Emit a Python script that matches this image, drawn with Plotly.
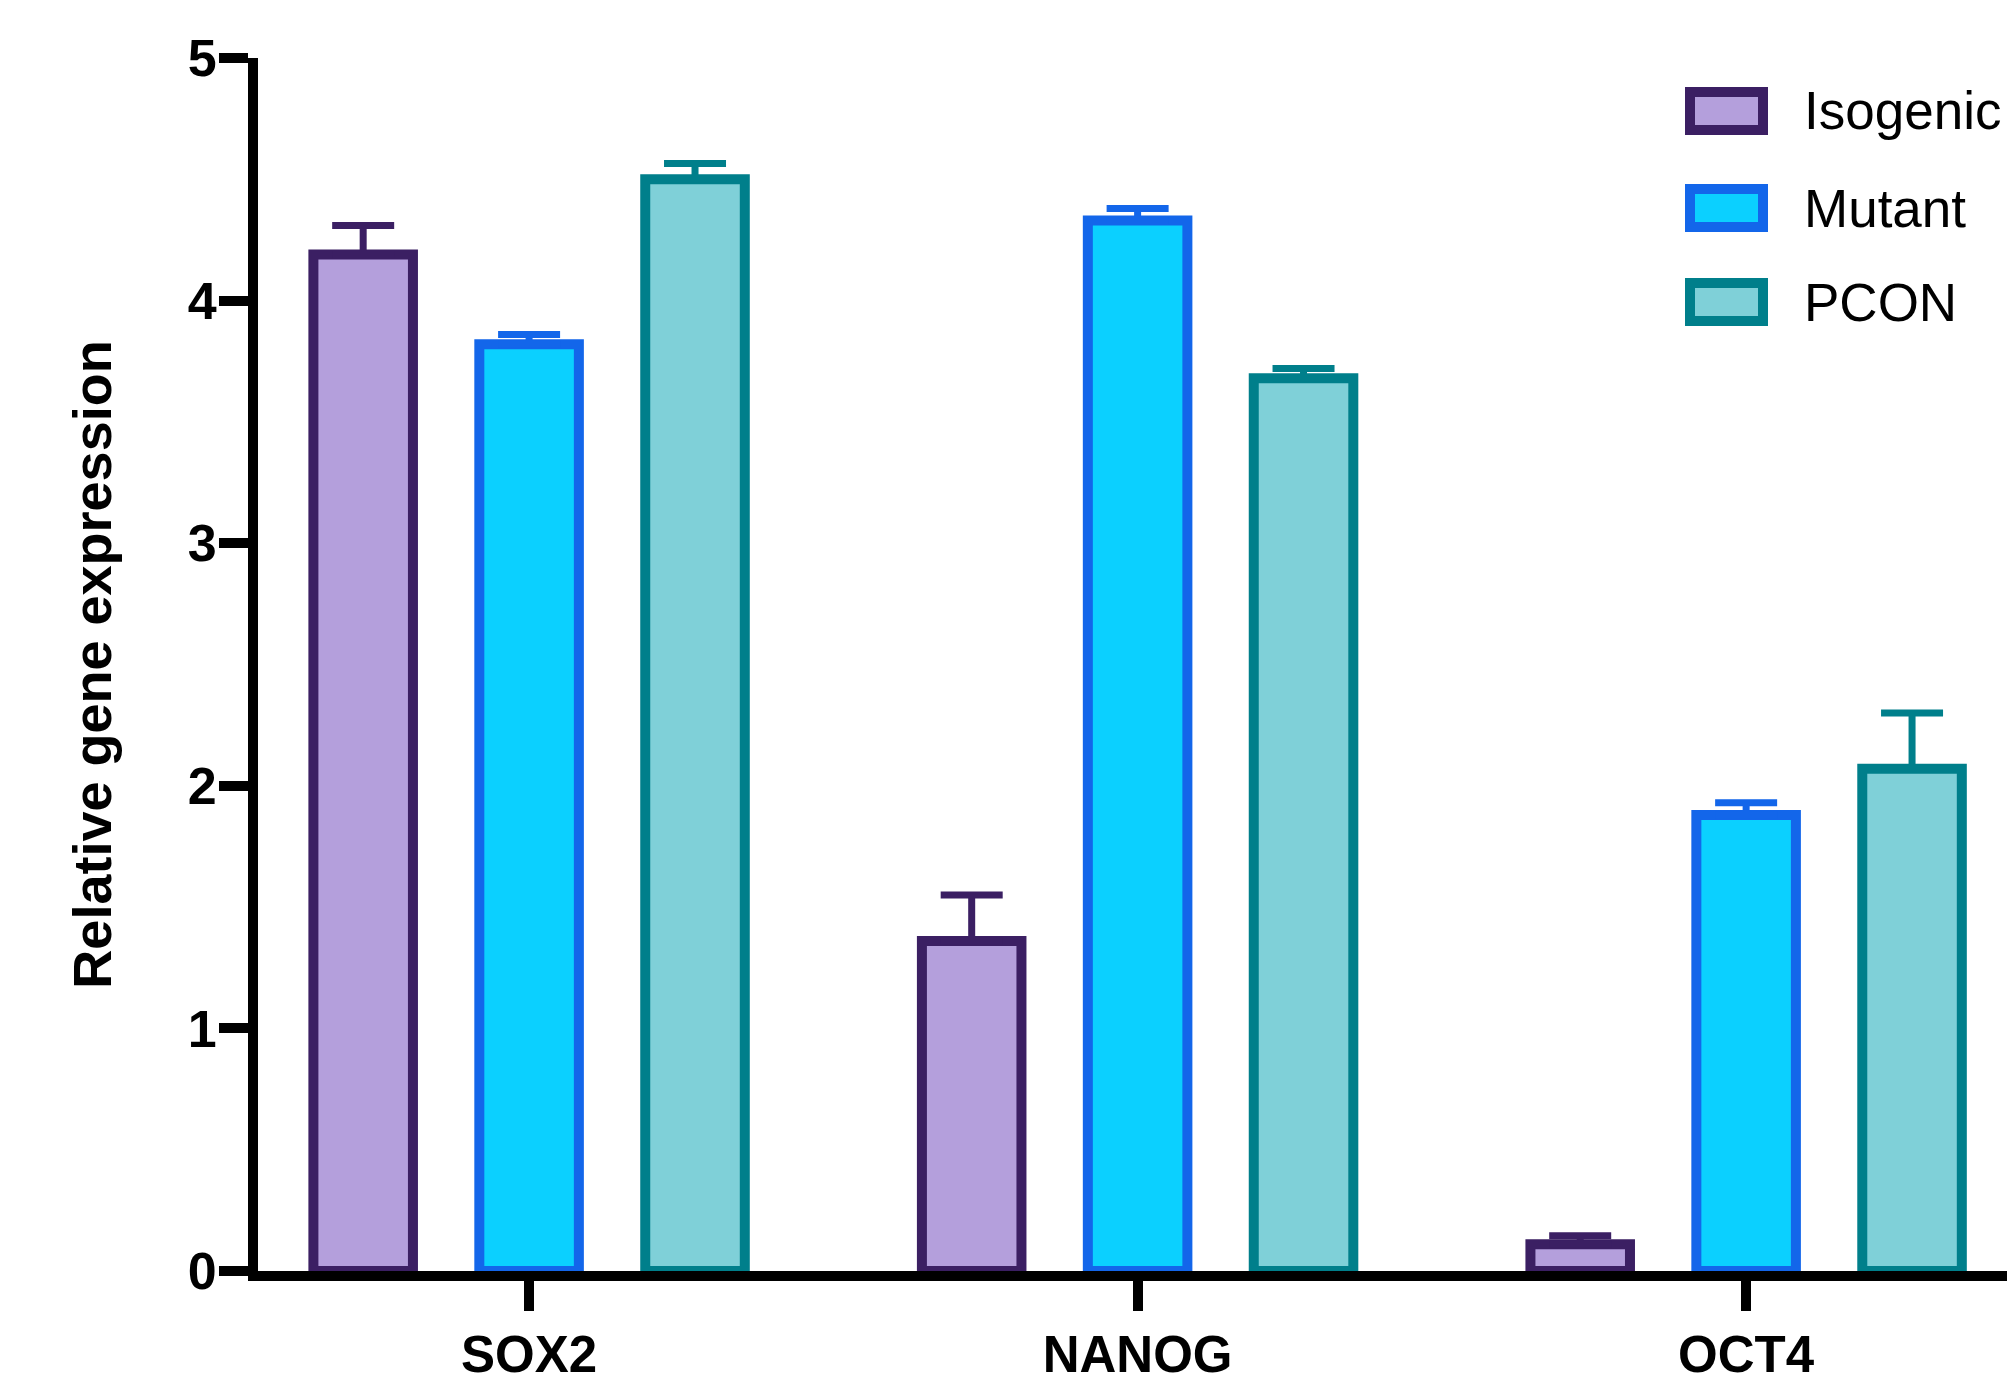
import plotly.graph_objects as go

categories = ["SOX2", "NANOG", "OCT4"]
series_names = ["Isogenic", "Mutant", "PCON"]
isogenic = [4.19, 1.36, 0.11]
isogenic_err = [0.12, 0.19, 0.035]
mutant = [3.82, 4.33, 1.88]
mutant_err = [0.04, 0.05, 0.05]
pcon = [4.50, 3.68, 2.07]
pcon_err = [0.065, 0.04, 0.23]
y_ticks = [0, 1, 2, 3, 4, 5]

fills = ["#b49fdc", "#0bd0ff", "#7fd0d8"]
borders = ["#3b1f63", "#1366ea", "#007f8b"]

W, H = 2015, 1382
ML, MR, MT, MB = 250, 0, 50, 119
PW, PH = W - ML - MR, H - MT - MB
FONT = "Arial, Liberation Sans, sans-serif"

fig = go.Figure()
for name, vals, errs, fc, bc in zip(series_names, [isogenic, mutant, pcon],
                                     [isogenic_err, mutant_err, pcon_err], fills, borders):
    fig.add_trace(go.Bar(
        name=name, x=categories, y=vals,
        marker=dict(color=fc, line=dict(color=bc, width=10)),
        error_y=dict(type="data", symmetric=False, array=errs, arrayminus=[0] * len(errs),
                     color=bc, thickness=7, width=31),
        showlegend=False,
    ))

# manual legend (keys as layout shapes, labels as annotations)
def px_to_paper(xp, yp):
    return (xp - ML) / PW, (H - MB - yp) / PH

legend_rows_y = [103, 200, 294]
shapes, annotations = [], []
for name, fc, bc, cy in zip(series_names, fills, borders, legend_rows_y):
    x0, y0 = px_to_paper(1682, cy + 19)
    x1, y1 = px_to_paper(1755, cy - 19)
    shapes.append(dict(type="rect", xref="paper", yref="paper", x0=x0, x1=x1, y0=y0, y1=y1,
                       fillcolor=fc, line=dict(color=bc, width=10), layer="above"))
    tx, ty = px_to_paper(1794, cy)
    annotations.append(dict(xref="paper", yref="paper", x=tx, y=ty, text=name, showarrow=False,
                            xanchor="left", yanchor="middle",
                            font=dict(family=FONT, size=53, color="black")))

fig.update_layout(
    width=W, height=H,
    margin=dict(l=ML, r=MR, t=MT, b=MB, pad=0),
    paper_bgcolor="white", plot_bgcolor="white",
    barmode="group", bargap=0.182, bargroupgap=0.40,
    shapes=shapes, annotations=annotations,
    font=dict(family=FONT, color="black"),
)
fig.update_xaxes(
    type="category", range=[-0.4455, 2.455],
    showline=True, linecolor="black", linewidth=10,
    ticks="outside", ticklen=30, tickwidth=10, tickcolor="black",
    tickfont=dict(family=FONT, size=51, color="black", weight=700),
    showgrid=False, zeroline=False,
)
fig.update_yaxes(
    range=[0, 5], tickvals=y_ticks, ticktext=[str(v) for v in y_ticks],
    showline=True, linecolor="black", linewidth=10,
    ticks="outside", ticklen=29, tickwidth=10, tickcolor="black",
    ticklabelstandoff=-8,
    tickfont=dict(family=FONT, size=52, color="black", weight=700),
    showgrid=False, zeroline=False,
    title=dict(text="Relative gene expression", standoff=63,
               font=dict(family=FONT, size=54, color="black", weight=700)),
)

fig.write_html("out.html")
